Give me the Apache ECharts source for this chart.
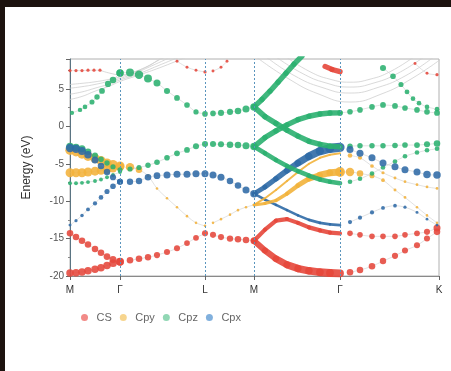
<!DOCTYPE html>
<html>
<head>
<meta charset="utf-8">
<script src="https://cdn.jsdelivr.net/npm/echarts@6/dist/echarts.min.js"></script>
<style>
  html, body { margin: 0; padding: 0; width: 451px; height: 371px; overflow: hidden; background: #1d130f; }
  #chart { position: absolute; left: 5px; top: 7px; width: 446px; height: 364px; background: #ffffff; }
</style>
</head>
<body>
<div id="chart"></div>
<script>
// High-symmetry points along the k-path
const kPoints = [0, 50, 135, 184, 270, 369];
const kLabels = ['M', 'Γ', 'L', 'M', 'Γ', 'K'];
const orbitals = ['CS', 'Cpy', 'Cpz', 'Cpx'];

// Fat-band samples: [k, E (eV), orbital weight]
// --- M → Γ ---
const mgCsTop   = [[0,7.45,.15],[6,7.45,.15],[12,7.45,.15],[18,7.5,.15],[24,7.5,.15],[30,7.5,.15]];
const mgCpzUp   = [[2,1.8,.25],[10,2.2,.28],[15,2.6,.3],[22,3.26,.35],[27,3.93,.38],[32,4.73,.42],[38,5.67,.46],[43,6.2,.5],[50,7.14,.55]];
const mgCpzMid  = [[0,-2.7,.6],[6,-2.8,.58],[12,-3.0,.55],[18,-3.4,.5],[25,-3.9,.45],[31,-4.4,.4],[37,-4.9,.38],[43,-5.4,.36],[50,-5.8,.35]];
const mgCpx     = [[0,-2.9,.7],[6,-3.0,.68],[12,-3.3,.65],[18,-3.8,.6],[25,-4.5,.55],[31,-5.3,.5],[37,-6.1,.48],[43,-6.8,.46],[50,-7.4,.45]];
const mgCpyUp   = [[0,-3.2,.8],[6,-3.4,.8],[12,-3.7,.8],[18,-4.0,.8],[25,-4.3,.8],[31,-4.6,.8],[37,-4.9,.78],[43,-5.1,.78],[50,-5.3,.78]];
const mgCpyLow  = [[0,-6.2,.75],[6,-6.2,.75],[12,-6.2,.75],[18,-6.1,.75],[25,-6.0,.74],[31,-5.9,.72],[37,-5.8,.7],[43,-5.6,.7],[50,-5.4,.7]];
const mgCpzLow  = [[0,-7.6,.22],[6,-7.6,.22],[12,-7.55,.22],[18,-7.45,.22],[25,-7.3,.22],[31,-7.1,.22],[37,-6.8,.22],[43,-6.5,.22],[50,-6.1,.22]];
const mgCpxLow  = [[0,-13.2,.12],[6,-12.6,.15],[12,-11.9,.18],[18,-11.1,.22],[25,-10.3,.26],[31,-9.5,.3],[37,-8.7,.35],[43,-8.0,.4],[50,-7.4,.45]];
const mgCsUp    = [[0,-14.3,.5],[6,-14.8,.5],[12,-15.3,.5],[18,-15.8,.5],[25,-16.4,.5],[31,-16.9,.5],[37,-17.4,.52],[43,-17.8,.55],[50,-18.1,.6]];
const mgCsLow   = [[0,-19.6,.6],[6,-19.55,.6],[12,-19.45,.6],[18,-19.3,.6],[25,-19.1,.6],[31,-18.9,.6],[37,-18.6,.6],[43,-18.3,.62],[50,-18.1,.65]];

// --- Γ → L ---
const glCpzTop  = [[50,7.14,.6],[60,7.2,.65],[69,6.9,.7],[78,6.4,.65],[87,5.8,.55],[97,4.73,.45],[107,3.8,.42],[117,2.86,.4],[126,1.93,.36],[135,1.66,.4]];
const glCpzMid  = [[60,-5.7,.35],[69,-5.5,.35],[78,-5.2,.38],[87,-4.8,.4],[97,-4.2,.4],[107,-3.6,.42],[117,-3.15,.42],[126,-2.65,.45],[135,-2.35,.45]];
const glCpy     = [[60,-5.45,.7],[69,-5.8,.5],[78,-6.6,.12],[87,-8.3,.08],[97,-9.6,.08],[107,-10.8,.08],[117,-12.0,.08],[126,-12.9,.08],[135,-13.3,.08]];
const glCpx     = [[60,-7.4,.48],[69,-7.3,.48],[78,-6.8,.5],[87,-6.6,.52],[97,-6.5,.55],[107,-6.4,.55],[117,-6.4,.55],[126,-6.35,.55],[135,-6.35,.55]];
const glCs      = [[60,-17.9,.5],[69,-17.7,.5],[78,-17.5,.48],[87,-17.2,.46],[97,-16.8,.45],[107,-16.3,.45],[117,-15.6,.42],[126,-14.9,.42],[135,-14.3,.45]];
const glCsTop   = [[107,8.7,.12],[117,7.9,.12],[126,7.5,.12],[135,7.27,.15]];

// --- L → M ---
const lmCpzUp   = [[143,1.73,.4],[151,1.8,.45],[160,1.93,.45],[168,2.06,.5],[176,2.33,.55],[184,2.6,.6]];
const lmCpzLow  = [[143,-2.35,.45],[151,-2.4,.45],[160,-2.45,.5],[168,-2.5,.5],[176,-2.6,.55],[184,-2.7,.6]];
const lmCpx     = [[143,-6.5,.55],[151,-6.8,.55],[160,-7.3,.5],[168,-7.9,.5],[176,-8.5,.55],[184,-9.0,.6]];
const lmCpy     = [[143,-12.9,.08],[151,-12.4,.08],[160,-11.8,.08],[168,-11.2,.08],[176,-10.8,.08],[184,-10.5,.08]];
const lmCs      = [[143,-14.5,.45],[151,-14.8,.45],[160,-15.0,.48],[168,-15.1,.5],[176,-15.2,.5],[184,-15.3,.55]];
const lmCsTop   = [[143,7.4,.12],[151,7.9,.12],[157,8.7,.12]];

// --- M → Γ (strongly projected, continuous bands) ---
const mg2CpzA   = [[184,2.6,.55],[192,3.6,.55],[200,4.7,.55],[208,5.9,.55],[216,7.1,.55],[224,8.3,.55],[232,9.4,.55]];
const mg2CpzB   = [[184,2.6,.55],[195,1.3,.55],[206,0.4,.55],[217,-0.5,.55],[228,-1.3,.55],[239,-2.0,.55],[250,-2.4,.55],[260,-2.65,.55],[270,-2.75,.55]];
const mg2CpzC   = [[184,-2.7,.55],[195,-1.5,.55],[206,-0.6,.55],[217,0.2,.55],[228,0.9,.55],[239,1.35,.55],[250,1.65,.55],[260,1.78,.55],[270,1.8,.55]];
const mg2CpzD   = [[184,-2.7,.45],[195,-3.6,.45],[206,-4.5,.45],[217,-5.3,.45],[228,-6.0,.45],[239,-6.6,.45],[250,-7.1,.45],[260,-7.4,.45],[270,-7.6,.45]];
const mg2CpyA   = [[184,-10.5,.12],[195,-9.6,.12],[206,-8.5,.12],[217,-7.3,.12],[228,-6.1,.12],[239,-5.0,.12],[250,-4.2,.12],[260,-3.8,.12],[270,-3.6,.12]];
const mg2CpxA   = [[184,-9.0,.45],[195,-8.1,.5],[206,-7.0,.55],[217,-5.9,.6],[228,-4.9,.7],[239,-4.0,.8],[250,-3.3,.9],[260,-2.95,1.0],[270,-2.8,1.05]];
const mg2CpyB   = [[184,-10.5,.25],[195,-10.3,.25],[206,-9.9,.3],[217,-9.0,.35],[228,-7.9,.45],[239,-7.0,.55],[250,-6.5,.65],[260,-6.2,.75],[270,-6.1,.8]];
const mg2CpxB   = [[184,-9.0,.2],[195,-9.8,.2],[206,-10.5,.2],[217,-11.2,.2],[228,-11.9,.2],[239,-12.5,.2],[250,-12.9,.2],[260,-13.1,.2],[270,-13.2,.2]];
const mg2CsA    = [[184,-15.3,.4],[195,-13.8,.4],[206,-12.6,.4],[217,-12.4,.4],[228,-12.9,.4],[239,-13.5,.4],[250,-13.9,.4],[260,-14.2,.4],[270,-14.3,.4]];
const mg2CsB    = [[184,-15.3,.6],[195,-16.6,.65],[206,-17.7,.7],[217,-18.5,.75],[228,-19.0,.8],[239,-19.3,.8],[250,-19.5,.85],[260,-19.6,.85],[270,-19.65,.85]];
const mg2CsTop  = [[255,8.0,.5],[262,7.6,.55],[270,7.3,.55]];

// --- Γ → K ---
const gkCpzUp   = [[270,1.8,.4],[280,1.95,.4],[290,2.2,.4],[302,2.6,.4],[313,2.86,.42],[325,2.73,.42],[335,2.46,.4],[347,2.2,.4],[357,1.93,.4],[367,1.8,.42]];
const gkCpzTop  = [[313,7.8,.45],[323,6.7,.4],[331,5.6,.35],[337,4.6,.32],[343,3.7,.3],[349,3.1,.3],[357,2.6,.3],[367,2.3,.3]];
const gkCsTop   = [[345,8.4,.12],[357,7.1,.12],[367,6.9,.15]];
const gkCpzMid  = [[280,-2.65,.38],[290,-2.6,.38],[302,-2.6,.38],[313,-2.6,.38],[325,-2.55,.4],[335,-2.5,.4],[347,-2.5,.42],[357,-2.4,.45],[367,-2.3,.5]];
const gkCpx     = [[280,-3.1,.55],[290,-3.6,.55],[302,-4.2,.55],[313,-4.9,.55],[325,-5.4,.55],[335,-5.8,.55],[347,-6.1,.55],[357,-6.45,.6],[367,-6.5,.6]];
const gkCpzLow  = [[280,-7.4,.3],[290,-7.0,.3],[302,-6.3,.3],[313,-5.5,.3],[325,-4.7,.3],[335,-4.0,.3],[347,-3.5,.3],[357,-3.2,.3],[367,-3.0,.3]];
const gkCpy     = [[270,-6.1,.85],[280,-6.1,.7],[290,-6.3,.5],[302,-6.6,.35],[313,-7.2,.2],[325,-8.5,.12],[335,-9.5,.1],[347,-10.8,.08],[357,-11.9,.08],[367,-12.9,.08]];
const gkCpySmall= [[280,-3.9,.3],[290,-4.2,.25],[302,-5.3,.2],[313,-6.2,.15],[325,-6.9,.12],[335,-7.4,.1],[347,-7.8,.1],[357,-8.1,.1],[367,-8.3,.1]];
const gkCpxLow  = [[280,-12.8,.25],[290,-12.2,.25],[302,-11.5,.25],[313,-10.9,.22],[325,-10.6,.2],[335,-10.8,.15],[347,-11.5,.12],[357,-12.4,.1],[367,-13.2,.1]];
const gkCs      = [[280,-14.3,.4],[290,-14.5,.4],[302,-14.7,.4],[313,-14.7,.4],[325,-14.7,.4],[335,-14.5,.4],[347,-14.3,.42],[357,-14.1,.45],[367,-13.6,.55]];
const gkCsLow   = [[280,-19.5,.5],[290,-19.2,.5],[302,-18.7,.5],[313,-18.0,.48],[325,-17.3,.46],[335,-16.6,.45],[347,-15.9,.45],[357,-15.0,.45],[367,-14.1,.5]];

// Weakly projected (free-electron-like) bands: [k, E]
const fe1 = [[0,5.6],[12,5.75],[25,5.95],[38,6.25],[50,6.6],[65,7.3],[80,8.2],[92,9.2]];
const fe2 = [[0,5.1],[12,5.3],[25,5.6],[38,6.0],[50,6.4],[65,7.1],[82,8.1],[100,9.2]];
const fe3 = [[0,4.3],[12,4.6],[25,5.1],[38,5.6],[50,6.2],[68,7.0],[88,8.1],[108,9.2]];
const fe4 = [[0,3.6],[12,4.0],[25,4.7],[38,5.3],[50,6.0],[70,6.9],[93,8.0],[115,9.2]];
const fe5 = [[30,7.5],[40,7.1],[50,6.9],[62,7.2],[76,7.9],[88,8.8],[94,9.2]];
const fe6 = [[217,9.2],[240,7.3],[260,6.3],[280,5.9],[300,6.3],[320,7.3],[343,9.2]];
const fe7 = [[207,9.2],[232,7.1],[256,5.8],[280,5.25],[304,5.8],[328,7.1],[353,9.2]];
const fe8 = [[197,9.2],[224,6.8],[252,5.2],[280,4.45],[308,5.2],[336,6.8],[363,9.2]];
const fe9 = [[187,9.2],[218,6.4],[249,4.3],[280,3.25],[311,4.3],[342,6.4],[373,9.2]];

const dotBands = [
  ['CS', mgCsTop], ['Cpz', mgCpzUp], ['Cpy', mgCpyUp], ['Cpy', mgCpyLow], ['Cpz', mgCpzMid], ['Cpx', mgCpx],
  ['Cpz', mgCpzLow], ['Cpx', mgCpxLow], ['CS', mgCsUp], ['CS', mgCsLow],
  ['Cpz', glCpzTop], ['Cpz', glCpzMid], ['Cpy', glCpy], ['Cpx', glCpx], ['CS', glCs], ['CS', glCsTop],
  ['Cpz', lmCpzUp], ['Cpz', lmCpzLow], ['Cpx', lmCpx], ['Cpy', lmCpy], ['CS', lmCs], ['CS', lmCsTop],
  ['Cpz', gkCpzUp], ['Cpz', gkCpzTop], ['CS', gkCsTop], ['Cpz', gkCpzMid], ['Cpx', gkCpx], ['Cpz', gkCpzLow],
  ['Cpy', gkCpy], ['Cpy', gkCpySmall], ['Cpx', gkCpxLow], ['CS', gkCs], ['CS', gkCsLow]
];
const thickBands = [
  ['CS', mg2CsTop], ['CS', mg2CsB], ['CS', mg2CsA], ['Cpx', mg2CpxB], ['Cpy', mg2CpyB], ['Cpy', mg2CpyA],
  ['Cpx', mg2CpxA], ['Cpz', mg2CpzD], ['Cpz', mg2CpzC], ['Cpz', mg2CpzB], ['Cpz', mg2CpzA]
];
const freeBands = [fe1, fe2, fe3, fe4, fe5, fe6, fe7, fe8, fe9];

const orbitalColor = { CS: '#e5473b', Cpy: '#f2b23b', Cpz: '#2bb070', Cpx: '#2f6aa6' };
const legendColor  = { CS: '#f07a76', Cpy: '#f6cf7e', Cpz: '#82d1aa', Cpx: '#6fa5d8' };
const FONT = 'Liberation Sans, Arial, sans-serif';

const series = [];

// thin connecting curves
freeBands.forEach(pts => series.push({
  type: 'line', data: pts, smooth: true, symbol: 'none', silent: true, z: 1,
  lineStyle: { color: '#cfcfcf', width: 0.8 }
}));
dotBands.forEach(([orb, pts]) => series.push({
  type: 'line', data: pts.map(p => [p[0], p[1]]), smooth: 0.3, symbol: 'none', silent: true, z: 1,
  lineStyle: { color: '#d6d6d6', width: 0.7 }
}));

// continuous fat bands, width follows the orbital weight
thickBands.forEach(([orb, pts]) => {
  for (let i = 0; i < pts.length - 1; i++) {
    const w = (pts[i][2] + pts[i + 1][2]) / 2;
    series.push({
      type: 'line', data: [[pts[i][0], pts[i][1]], [pts[i + 1][0], pts[i + 1][1]]],
      symbol: 'none', silent: true, z: 2,
      lineStyle: { color: orbitalColor[orb], width: 1 + w * 8, cap: 'round', opacity: 0.9 }
    });
  }
});

// high-symmetry separators
series.push({
  type: 'line', data: [], silent: true, z: 1,
  markLine: {
    silent: true, symbol: 'none', label: { show: false },
    lineStyle: { color: '#5a95bd', type: [2, 2], width: 1 },
    data: kPoints.slice(1, -1).map(k => ({ xAxis: k }))
  }
});

// projected dots
orbitals.forEach(orb => series.push({
  name: orb, type: 'scatter', z: 3,
  data: dotBands.filter(b => b[0] === orb).flatMap(b => b[1]),
  symbolSize: d => 1.8 + d[2] * 9.5,
  itemStyle: { color: orbitalColor[orb], opacity: 0.88 }
}));

const chart = echarts.init(document.getElementById('chart'), null, { renderer: 'canvas' });
chart.setOption({
  animation: false,
  backgroundColor: '#ffffff',
  grid: { left: 65, top: 52, width: 369, height: 217, show: true, borderColor: '#b0b0b0', borderWidth: 1 },
  xAxis: {
    type: 'value', min: 0, max: 369,
    axisLine: { show: true, onZero: false, lineStyle: { color: '#8a8a8a', width: 1.2 } },
    axisTick: { show: true, customValues: kPoints, length: 4, lineStyle: { color: '#666' } },
    axisLabel: {
      customValues: kPoints, margin: 9, color: '#333', fontSize: 10, fontFamily: FONT,
      formatter: v => kLabels[kPoints.indexOf(v)]
    },
    splitLine: { show: false }
  },
  yAxis: {
    type: 'value', min: -20, max: 9, interval: 5,
    name: 'Energy (eV)', nameLocation: 'middle', nameGap: 37,
    nameTextStyle: { color: '#333', fontSize: 12, fontFamily: FONT },
    axisLine: { show: true, lineStyle: { color: '#5a7482', width: 1 } },
    axisTick: { show: true, length: 4, lineStyle: { color: '#666' } },
    minorTick: { show: true, splitNumber: 2, length: 2, lineStyle: { color: '#888' } },
    axisLabel: { showMaxLabel: false, margin: 6, color: '#555', fontSize: 10, fontFamily: FONT },
    splitLine: { show: false }
  },
  legend: {
    data: orbitals.map(o => ({ name: o, itemStyle: { color: legendColor[o] } })),
    icon: 'circle', itemWidth: 14, itemHeight: 7, itemGap: 8,
    left: 71, top: 300,
    textStyle: { color: '#666', fontSize: 11, fontFamily: FONT }
  },
  series
});
</script>
</body>
</html>
